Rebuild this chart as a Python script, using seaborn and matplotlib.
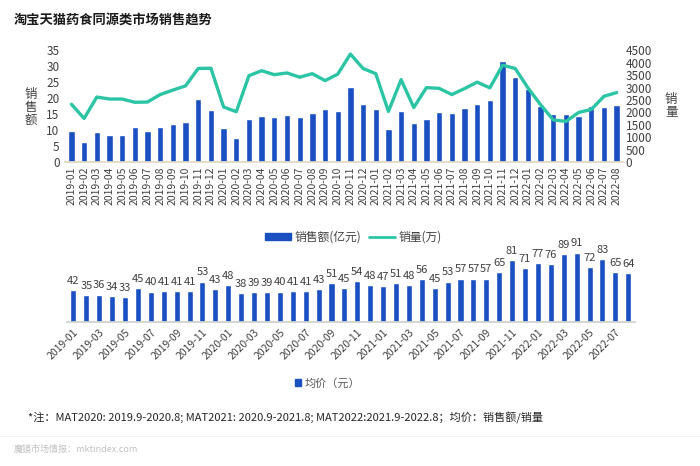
import numpy as np
import pandas as pd
import matplotlib
matplotlib.use("Agg")
import matplotlib.pyplot as plt
import seaborn as sns
from matplotlib.patches import Patch
from matplotlib.lines import Line2D

# ==========================================================
# DATA
# ==========================================================

months = [f"{y}-{m:02d}" for y in (2019, 2020, 2021, 2022) for m in range(1, 13)][:44]

# 销售额 (亿元)
sales = [9.7, 6.2, 9.4, 8.6, 8.4, 10.9, 9.6, 11.1, 11.9, 12.6, 19.9, 16.2,
         10.7, 7.7, 13.5, 14.3, 14.0, 14.7, 14.0, 15.3, 16.7, 16.0, 23.5, 18.2,
         16.7, 10.4, 16.0, 12.4, 13.5, 15.8, 15.5, 16.8, 18.3, 19.4, 31.6, 26.8,
         23.0, 17.6, 15.2, 15.0, 14.4, 17.7, 17.2, 17.9]

# 销量 (万)
volume = [2330, 1760, 2620, 2540, 2540, 2410, 2420, 2720, 2900, 3070, 3770, 3780,
          2220, 2030, 3480, 3680, 3520, 3590, 3420, 3560, 3280, 3540, 4350, 3770,
          3560, 2040, 3320, 2200, 3000, 2970, 2720, 2960, 3220, 2990, 3900, 3770,
          2990, 2310, 1700, 1640, 2000, 2120, 2650, 2800]

# 均价 (元)
price = [42, 35, 36, 34, 33, 45, 40, 41, 41, 41, 53, 43,
         48, 38, 39, 39, 40, 41, 41, 43, 51, 45, 54, 48,
         47, 51, 48, 56, 45, 53, 57, 57, 57, 65, 81, 71,
         77, 76, 89, 91, 72, 83, 65, 64]

df = pd.DataFrame({"month": months, "sales": sales, "volume": volume, "price": price})

BLUE = "#1A4FC2"
TEAL = "#2BC4A4"
TXT = "#404040"

# ==========================================================
# STYLE
# ==========================================================

sns.set_theme(style="white")
plt.rcParams["font.family"] = ["Noto Sans CJK SC", "DejaVu Sans"]
plt.rcParams["axes.unicode_minus"] = False

fig = plt.figure(figsize=(7, 4.66), dpi=100)

# ==========================================================
# TOP CHART: sales bars + volume line
# ==========================================================

ax1 = fig.add_axes([0.093, 0.652, 0.797, 0.240])
sns.barplot(data=df, x="month", y="sales", color=BLUE, saturation=1,
            width=0.5, ax=ax1)
ax1.set_xlim(-0.5, len(months) - 0.5)
ax1.set_ylim(0, 35)
ax1.set_yticks(range(0, 36, 5))
ax1.set_xlabel("")
ax1.set_ylabel("")
ax1.tick_params(axis="x", labelrotation=90, labelsize=7.5, labelcolor=TXT,
                length=0, pad=3)
ax1.tick_params(axis="y", labelsize=8.5, labelcolor=TXT, length=0, pad=4)
ax1.set_xticks(np.arange(len(months)) + 0.5, minor=True)
ax1.tick_params(axis="x", which="minor", length=3, color="#e8dfc8")
for s in ["top", "right", "left"]:
    ax1.spines[s].set_visible(False)
ax1.spines["bottom"].set_color("#e0d8c4")

ax2 = ax1.twinx()
sns.lineplot(x=np.arange(len(months)), y=df["volume"], color=TEAL,
             linewidth=2.4, ax=ax2)
ax2.set_ylim(0, 4500)
ax2.set_yticks(range(0, 4501, 500))
ax2.set_ylabel("")
ax2.tick_params(axis="y", labelsize=8.5, labelcolor=TXT, length=0, pad=2)
for s in ["top", "right", "left", "bottom"]:
    ax2.spines[s].set_visible(False)

fig.text(0.044, 0.770, "销\n售\n额", ha="center", va="center",
         fontsize=9, color=TXT, linespacing=1.0)
fig.text(0.959, 0.773, "销\n量", ha="center", va="center",
         fontsize=9, color=TXT, linespacing=1.0)

handles = [Patch(color=BLUE), Line2D([0], [0], color=TEAL, lw=2)]
fig.legend(handles, ["销售额(亿元)", "销量(万)"], loc="center",
           bbox_to_anchor=(0.505, 0.491), ncol=2, frameon=False,
           fontsize=8.5, handlelength=2.2, handleheight=0.5,
           columnspacing=0.6, handletextpad=0.3, labelcolor=TXT)

fig.text(0.02, 0.957, "淘宝天猫药食同源类市场销售趋势", ha="left", va="center",
         fontsize=9.5, fontweight="bold", color="#1a1a1a")

# ==========================================================
# BOTTOM CHART: average price
# ==========================================================

ax3 = fig.add_axes([0.0957, 0.309, 0.811, 0.18])
sns.barplot(data=df, x="month", y="price", color=BLUE, saturation=1,
            width=0.47, ax=ax3)
ax3.set_xlim(-0.5, len(months) - 0.5)
ax3.set_ylim(0, 110)
ax3.set_xlabel("")
ax3.set_ylabel("")
ax3.set_yticks([])
ax3.bar_label(ax3.containers[0], padding=3, fontsize=8, color=TXT)
ax3.set_xticks(range(0, len(months), 2))
ax3.set_xticklabels(months[::2], rotation=45, ha="right",
                    rotation_mode="anchor")
ax3.tick_params(axis="x", labelsize=7.5, labelcolor=TXT, length=0, pad=4)
ax3.set_xticks(np.arange(len(months)) + 0.5, minor=True)
ax3.tick_params(axis="x", which="minor", length=3, color="#d0d0d0")
for s in ["top", "right", "left"]:
    ax3.spines[s].set_visible(False)
ax3.spines["bottom"].set_color("#d0d0d0")

fig.legend([Patch(color=BLUE)], ["均价（元）"], loc="center",
           bbox_to_anchor=(0.468, 0.178), frameon=False, fontsize=8,
           handlelength=0.6, handleheight=0.6, handletextpad=0.3,
           labelcolor="#595959")

# ==========================================================
# NOTES
# ==========================================================

fig.text(0.04, 0.103,
         "*注：MAT2020: 2019.9-2020.8; MAT2021: 2020.9-2021.8; "
         "MAT2022:2021.9-2022.8；均价：销售额/销量",
         ha="left", va="center", fontsize=8, color="#262626")
fig.add_artist(Line2D([0, 1], [0.065, 0.065], color="#f0f0f0", lw=0.8))
fig.text(0.02, 0.036, "魔镜市场情报：mktindex.com", ha="left", va="center",
         fontsize=6.5, color="#c0c0c0")

plt.savefig("out.png", dpi=100)
